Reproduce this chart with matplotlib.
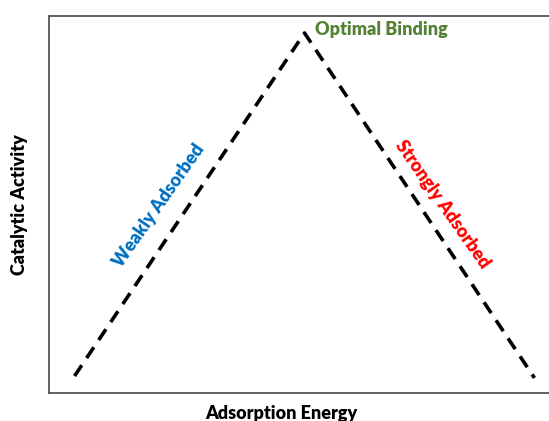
import matplotlib.pyplot as plt

# volcano plot data (arbitrary units)
energy = [0.5, 5.0, 9.5]
activity = [0.45, 9.55, 0.4]

plt.rcParams['font.family'] = ['Lato', 'DejaVu Sans']

fig = plt.figure(figsize=(5.49, 4.21), dpi=100)
ax = fig.add_axes([49 / 549, 1 - 393 / 421, 511 / 549, 377 / 421])

ax.plot(energy, activity, color="black", linestyle=(0, (3.6, 2.4)), linewidth=2.6)

ax.set_xlim(0, 10)
ax.set_ylim(0, 10)
ax.set_xticks([])
ax.set_yticks([])
for sp in ax.spines.values():
    sp.set_color("#555555")
    sp.set_linewidth(1.3)

ax.set_xlabel("Adsorption Energy", fontsize=13, fontweight="heavy")
ax.xaxis.set_label_coords(0.455, -0.033)
ax.set_ylabel("Catalytic Activity", fontsize=13, fontweight="heavy", labelpad=15)

ax.text(5.2, 9.63, "Optimal Binding", color="#548235", fontsize=13,
        fontweight="heavy", ha="left", va="center")
ax.text(2.14, 4.98, "Weakly Adsorbed", color="#0070C0", fontsize=13,
        fontweight="heavy", ha="center", va="center", rotation=55)
ax.text(7.71, 5.0, "Strongly Adsorbed", color="#FF0000", fontsize=13,
        fontweight="heavy", ha="center", va="center", rotation=-55)

fig.savefig("out.png", dpi=100)
